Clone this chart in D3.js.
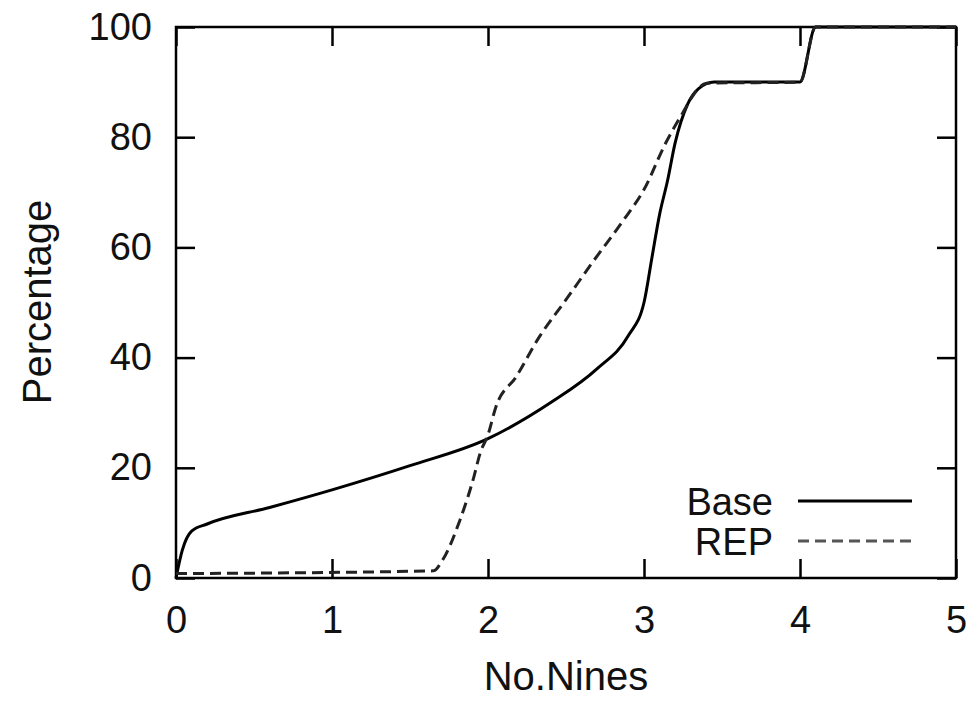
<!DOCTYPE html>
<html>
<head>
<meta charset="utf-8">
<script src="https://d3js.org/d3.v7.min.js"></script>
<style>
  body { margin: 0; background: #fff; }
  text { font-family: "Liberation Sans", Arial, sans-serif; fill: #111; }
</style>
</head>
<body>
<div id="chart"></div>
<script>
// values
var baseNines = [0, 0.04, 0.1, 0.2, 0.6, 1.0, 1.5, 2.0, 2.4, 2.7, 2.9, 3.0, 3.05, 3.1, 3.15, 3.2, 3.28, 3.35, 3.45, 4.0, 4.1, 5.0];
var basePct = [0, 5, 8.5, 9.8, 12.8, 16, 20.4, 25.3, 31.8, 38, 44, 50, 58, 66, 72, 79, 86, 88.8, 90, 90, 100, 100];

var repNines = [0, 1.65, 1.71, 1.82, 1.91, 1.95, 2.0, 2.05, 2.18, 2.33, 2.5, 2.67, 2.87, 3.0, 3.14, 3.25, 3.32, 3.4, 4.0, 4.1, 5.0];
var repPct = [0.8, 1.3, 3.3, 10.5, 18.4, 22.7, 26, 31, 36.5, 43.8, 50.5, 57.3, 65, 70.5, 79, 84.5, 87.8, 89.8, 90, 100, 100];

var xTicks = [0, 1, 2, 3, 4, 5];
var yTicks = [0, 20, 40, 60, 80, 100];

var series = [
  { name: "Base", x: baseNines, y: basePct, dash: null },
  { name: "REP", x: repNines, y: repPct, dash: "11,6" }
];

var margin = { top: 27, right: 17, bottom: 123, left: 176 };
var width = 973 - margin.left - margin.right;
var height = 701 - margin.top - margin.bottom;

var svg = d3.select("#chart")
  .append("svg")
  .attr("width", 973)
  .attr("height", 701)
  .append("g")
  .attr("transform", "translate(" + margin.left + "," + margin.top + ")");

var x = d3.scaleLinear().domain([0, 5]).range([0, width]);
var y = d3.scaleLinear().domain([0, 100]).range([height, 0]);

// axes with inward ticks
function styleAxis(g) {
  g.select(".domain").remove();
  g.selectAll(".tick line").attr("stroke", "#000").attr("stroke-width", 2.5);
  g.selectAll("text").style("font-size", "38px").attr("fill", "#111");
}

svg.append("g")
  .attr("transform", "translate(0," + height + ")")
  .call(d3.axisBottom(x).tickValues(xTicks).tickSize(-19).tickPadding(28).tickFormat(d3.format("d")))
  .call(styleAxis);
svg.append("g")
  .call(d3.axisLeft(y).tickValues(yTicks).tickSize(-19).tickPadding(24))
  .call(styleAxis);
svg.append("g")
  .call(d3.axisTop(x).tickValues(xTicks).tickSize(-19).tickFormat(""))
  .call(styleAxis);
svg.append("g")
  .attr("transform", "translate(" + width + ",0)")
  .call(d3.axisRight(y).tickValues(yTicks).tickSize(-19).tickFormat(""))
  .call(styleAxis);

// frame
svg.append("rect")
  .attr("width", width)
  .attr("height", height)
  .attr("fill", "none")
  .attr("stroke", "#000")
  .attr("stroke-width", 2.5);

// curves
var line = d3.line()
  .x(function (d) { return x(d[0]); })
  .y(function (d) { return y(d[1]); })
  .curve(d3.curveMonotoneX);

series.forEach(function (s) {
  var pts = s.x.map(function (v, i) { return [v, s.y[i]]; });
  svg.append("path")
    .datum(pts)
    .attr("fill", "none")
    .attr("stroke", s.dash ? "#222" : "#000")
    .attr("stroke-width", 3)
    .attr("stroke-dasharray", s.dash)
    .attr("d", line);
});

// legend
var legend = svg.append("g").attr("transform", "translate(" + (773 - margin.left) + "," + (501 - margin.top) + ")");
series.forEach(function (s, i) {
  var row = legend.append("g").attr("transform", "translate(0," + (i * 40) + ")");
  row.append("text")
    .attr("text-anchor", "end")
    .attr("dy", "0.36em")
    .style("font-size", "38px")
    .text(s.name);
  row.append("line")
    .attr("x1", 25).attr("x2", 139)
    .attr("stroke", s.dash ? "#555" : "#000")
    .attr("stroke-width", 3)
    .attr("stroke-dasharray", s.dash);
});

// axis titles
svg.append("text")
  .attr("x", 566 - margin.left)
  .attr("y", 690 - margin.top)
  .attr("text-anchor", "middle")
  .style("font-size", "40px")
  .text("No.Nines");

svg.append("text")
  .attr("transform", "translate(" + (51 - margin.left) + "," + (302 - margin.top) + ") rotate(-90)")
  .attr("text-anchor", "middle")
  .style("font-size", "40px")
  .text("Percentage");
</script>
</body>
</html>
